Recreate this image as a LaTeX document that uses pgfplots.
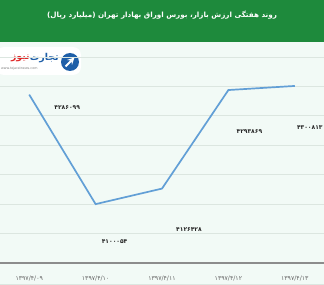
\documentclass[border=0pt]{standalone}
\usepackage{fontspec}
\usepackage{pgfplots}
\pgfplotsset{compat=1.18}
\TeXXeTstate=1
\newfontfamily\arabicfont[Script=Arabic]{DejaVu Sans}
\setmainfont{DejaVu Sans}
\definecolor{bgmint}{HTML}{F2FAF6}
\definecolor{titlegreen}{HTML}{1E8A3C}
\definecolor{lineblue}{HTML}{629FD6}
\definecolor{gridc}{HTML}{DCE6E0}
\definecolor{logoblue}{HTML}{1F5FA8}
\definecolor{logored}{HTML}{E02828}
\begin{document}
\begin{tikzpicture}[x=1bp,y=1bp]
\useasboundingbox (0,0) rectangle (324,285);
\clip (0,0) rectangle (324,285);
\fill[bgmint] (0,0) rectangle (324,285);
\fill[titlegreen] (0,243) rectangle (324,285);
\node[text=white, font=\arabicfont\bfseries\fontsize{7.2}{9}\selectfont] at (162,270) {\beginR روند هفتگی ارزش بازار، بورس اوراق بهادار تهران (میلیارد ریال)\endR};
% logo
\fill[white, rounded corners=8bp] (-4,210) rectangle (81,238);
\fill[logoblue] (70,223) circle (9);
\draw[white, line width=2bp, -{stealth}] (65.5,218.5) -- (74.5,227.5);
\node[anchor=east, text=logoblue, font=\arabicfont\bfseries\fontsize{9.5}{10}\selectfont, inner sep=0pt] at (59,227) {\beginR تجارت\endR};
\node[anchor=east, text=logored, font=\arabicfont\bfseries\fontsize{9.5}{10}\selectfont, inner sep=0pt] at (30,227) {\beginR نیوز\endR};
\node[anchor=west, text=gray, font=\fontsize{3.3}{4}\selectfont, inner sep=0pt] at (1,216) {www.tejaratnews.com};
\draw[gridc] (0,1) -- (324,1);
\begin{axis}[
  at={(0bp,22bp)}, anchor=south west,
  scale only axis, width=324bp, height=206bp,
  xmin=-0.44, xmax=4.44,
  ymin=4000000, ymax=4350000,
  scaled y ticks=false,
  ytick={4000000,4050000,4100000,4150000,4200000,4250000,4300000,4350000},
  yticklabels={},
  ymajorgrids, major grid style={gridc, line width=0.8bp},
  xtick={0,1,2,3,4},
  xticklabels={۱۳۹۷/۴/۰۹,۱۳۹۷/۴/۱۰,۱۳۹۷/۴/۱۱,۱۳۹۷/۴/۱۲,۱۳۹۷/۴/۱۳},
  xticklabel style={font=\arabicfont\fontsize{6.2}{7}\selectfont, text=black!60, yshift=-9bp},
  major tick length=0pt,
  axis line style={draw=none},
  clip=false,
]
\draw[black!45, line width=1.3bp] (rel axis cs:0,0) -- (rel axis cs:1,0);
\addplot[lineblue, line width=1.7bp, mark=none] coordinates {
  (0,4286099) (1,4100054) (2,4126428) (3,4293869) (4,4300813)
};
\begin{scope}[every node/.style={font=\arabicfont\bfseries\fontsize{6}{7}\selectfont, text=black!85, inner sep=0pt}]
\node[xshift=38bp, yshift=-13bp] at (axis cs:0,4286099) {۴۲۸۶۰۹۹};
\node[xshift=19bp, yshift=-37bp] at (axis cs:1,4100054) {۴۱۰۰۰۵۴};
\node[xshift=27bp, yshift=-41bp] at (axis cs:2,4126428) {۴۱۲۶۴۲۸};
\node[xshift=21bp, yshift=-42bp] at (axis cs:3,4293869) {۴۲۹۳۸۶۹};
\node[xshift=15bp, yshift=-42bp] at (axis cs:4,4300813) {۴۳۰۰۸۱۳};
\end{scope}
\end{axis}
\end{tikzpicture}
\end{document}
